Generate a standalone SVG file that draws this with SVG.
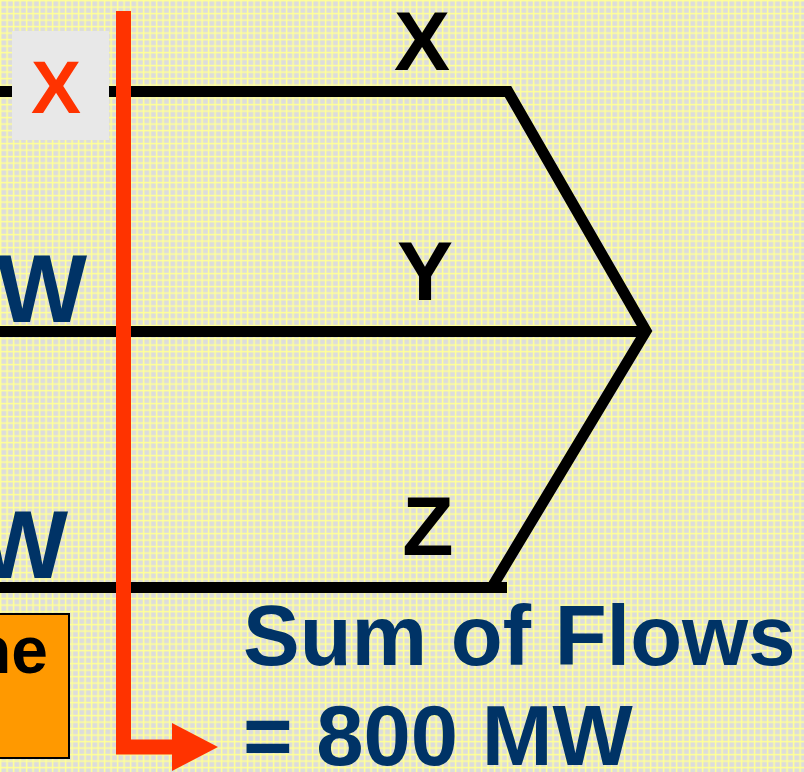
<svg xmlns="http://www.w3.org/2000/svg" width="804" height="772" viewBox="0 0 804 772">
<style>
.lbl{font-family:"Liberation Sans",Arial,sans-serif;font-weight:bold}
.blk{fill:#000}
.blue{fill:#003366}
.red{fill:#FF3300}
.ln{stroke:#000;stroke-width:11;fill:none;stroke-linejoin:miter;stroke-miterlimit:4}
</style>
<defs>
<pattern id="grid" x="0" y="0" width="6.5" height="6.5" patternUnits="userSpaceOnUse">
<rect width="6.5" height="6.5" fill="#FFFF99"/>
<rect x="1.4" y="1.4" width="4.9" height="4.9" fill="#DCDCDC"/>
</pattern>
</defs>
<rect width="804" height="772" fill="url(#grid)"/>
<g id="connectors">
<path class="ln" d="M0 91.5 H508 L646 331 L492 587"/>
<path class="ln" d="M0 331.5 H646"/>
<path class="ln" d="M0 587.5 H507"/>
</g>
<g id="nodeXbox">
<rect x="12" y="31" width="97" height="109" fill="#E8E8E8"/>
<text class="lbl red" x="56" y="113" font-size="75" text-anchor="middle">X</text>
</g>
<g id="cutline">
<path d="M123.5 11 V747 H176" stroke="#FF3300" stroke-width="15" fill="none" stroke-linejoin="miter"/>
<polygon points="172,723 218,747 172,771" fill="#FF3300"/>
</g>
<g id="labelX"><text class="lbl blk" x="422" y="70" font-size="84" text-anchor="middle">X</text></g>
<g id="labelY"><text class="lbl blk" x="425" y="300" font-size="84" text-anchor="middle">Y</text></g>
<g id="labelZ"><text class="lbl blk" x="428" y="555" font-size="84" text-anchor="middle">Z</text></g>
<g id="w1"><text class="lbl blue" x="87" y="322" font-size="96" text-anchor="end">W</text></g>
<g id="w2"><text class="lbl blue" x="68" y="578" font-size="96" text-anchor="end">W</text></g>
<g id="orangeBox">
<rect x="-10" y="614" width="79" height="144" fill="#FF9900" stroke="#000" stroke-width="2"/>
<text class="lbl blk" x="48" y="673" font-size="66" text-anchor="end">ne</text>
</g>
<g id="sum">
<text class="lbl blue" x="243" y="665" font-size="85">Sum of Flows</text>
<text class="lbl blue" x="243" y="765" font-size="85">= 800 MW</text>
</g>
</svg>
